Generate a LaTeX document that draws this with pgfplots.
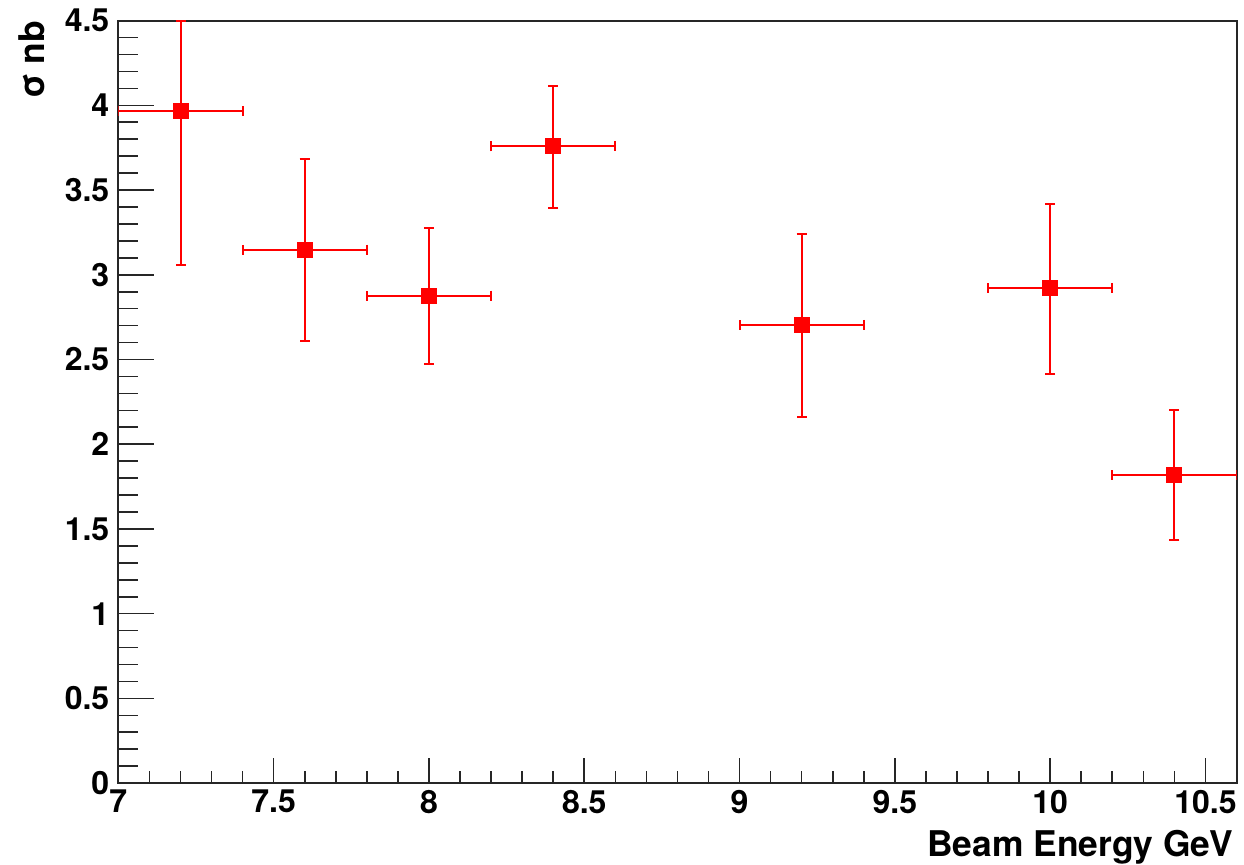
\documentclass[border=0pt]{standalone}
\usepackage{fontspec}
\setmainfont{TeX Gyre Heros}
\usepackage{pgfplots}
\usepackage{pgfplotstable}
\pgfplotsset{compat=1.18}
\pgfplotstableread{
x y ex eyp eym
7.2 3.965 0.2 0.535 0.91
7.6 3.148 0.2 0.535 0.540
8.0 2.877 0.2 0.401 0.401
8.4 3.758 0.2 0.358 0.362
9.2 2.704 0.2 0.537 0.545
10.0 2.922 0.2 0.495 0.505
10.4 1.820 0.2 0.383 0.383
}\datatable
\begin{document}
\begin{tikzpicture}
\pgfplotsset{common/.style={
  scale only axis, width=559.1pt, height=381.3pt,
  xmin=7, xmax=10.6, ymin=0, ymax=4.5,
  xtick={7,7.5,...,10.5}, ytick={0,0.5,...,4.5},
  minor x tick num=4, minor y tick num=4,
  tick align=inside, tick pos=left,
  /pgf/number format/assume math mode=true,
  ticklabel style={font=\fontsize{16}{16}\selectfont\bfseries, black},
}}
\begin{axis}[common, major tick length=17.7pt, minor tick length=9.7pt,
  xtick style={draw=none}, ytick style={black!85, line width=0.8pt},
  xticklabels={}, yticklabels={}, axis line style={draw=none}]
\end{axis}
\begin{axis}[common, major tick length=12.5pt, minor tick length=6.3pt,
  ytick style={draw=none}, xtick style={black!85, line width=0.8pt},
  axis line style={black!85, line width=1pt},
  yticklabel style={inner sep=0pt, xshift=-4.35pt},
  xlabel={Beam Energy GeV},
  xlabel style={font=\fontsize{17.7}{18}\selectfont\bfseries, at={(axis description cs:1,0)}, anchor=base east, inner sep=0pt, yshift=-36.7pt, xshift=-1.75pt},
  ylabel={σ nb},
  ylabel style={font=\fontsize{17.7}{18}\selectfont\bfseries, at={(axis description cs:-0.0662,1)}, rotate=0, anchor=base east, inner sep=0pt},
]
\addplot[color=red, line width=1pt, only marks, mark=square*, mark size=3.5pt,
  mark options={solid, fill=red, draw=red},
  error bars/.cd, x dir=both, x explicit, y dir=both, y explicit,
  error mark=|,
  error mark options={red, line width=1pt, mark size=2.5pt},
  error bar style={red, line width=1pt}]
  table[x=x, y=y, x error=ex, y error plus=eyp, y error minus=eym]{\datatable};
\end{axis}
\path (-59.2pt,-40.85pt) rectangle (562.85pt,391.6pt);
\end{tikzpicture}
\end{document}
